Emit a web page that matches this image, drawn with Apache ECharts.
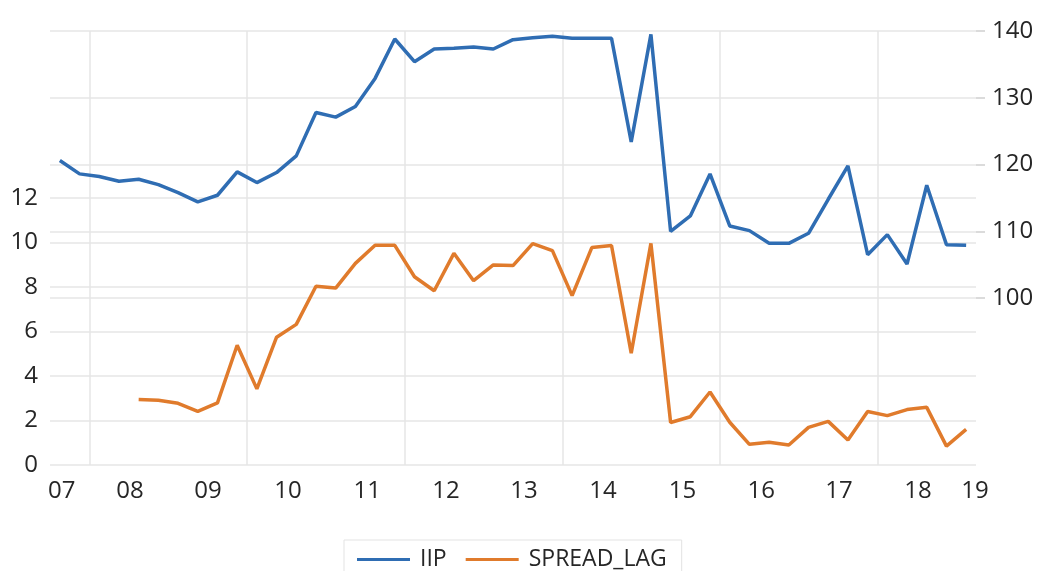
<!DOCTYPE html>
<html>
<head>
<meta charset="utf-8">
<script src="https://cdn.jsdelivr.net/npm/echarts@6/dist/echarts.min.js"></script>
<style>html,body{margin:0;padding:0;background:#fff;}#chart{width:1039px;height:571px;}</style>
</head>
<body>
<div id="chart"></div>
<script>
// Quarterly categories 2007Q1 .. 2018Q3
const quarters = [
  '2007Q1','2007Q2','2007Q3','2007Q4','2008Q1','2008Q2','2008Q3','2008Q4',
  '2009Q1','2009Q2','2009Q3','2009Q4','2010Q1','2010Q2','2010Q3','2010Q4',
  '2011Q1','2011Q2','2011Q3','2011Q4','2012Q1','2012Q2','2012Q3','2012Q4',
  '2013Q1','2013Q2','2013Q3','2013Q4','2014Q1','2014Q2','2014Q3','2014Q4',
  '2015Q1','2015Q2','2015Q3','2015Q4','2016Q1','2016Q2','2016Q3','2016Q4',
  '2017Q1','2017Q2','2017Q3','2017Q4','2018Q1','2018Q2','2018Q3'
];
const iip = [
  120.6,118.6,118.2,117.5,117.8,117.0,115.8,114.4,
  115.4,118.9,117.3,118.8,121.3,127.8,127.1,128.7,
  132.9,138.8,135.4,137.3,137.4,137.6,137.3,138.7,
  139.0,139.2,138.9,138.9,138.9,123.4,139.5,110.0,
  112.3,118.6,110.8,110.1,108.2,108.2,109.7,114.8,
  119.8,106.5,109.5,105.1,116.9,108.0,107.9
];
const spreadLag = [
  null,null,null,null,2.94,2.91,2.77,2.41,
  2.79,5.38,3.42,5.74,6.32,8.03,7.95,9.06,
  9.87,9.87,8.46,7.83,9.51,8.28,8.99,8.96,
  9.95,9.63,7.61,9.77,9.86,5.02,9.96,1.91,
  2.17,3.28,1.92,0.93,1.02,0.90,1.69,1.96,
  1.12,2.40,2.22,2.49,2.59,0.85,1.60
];
const yearLabels = ['07','08','09','10','11','12','13','14','15','16','17','18','19'];
const yearLabelPos = [0.6,4.06,8.02,12.08,16.1,20.1,24.06,28.07,32.1,36.1,40.05,44.06,46.95];
const vGridPos = [2,10,18,26,34,42];
const leftTicks = [0,2,4,6,8,10,12];
const rightTicks = [100,110,120,130,140];

const FONT = 'Open Sans';
const TXT = '#262626';
const GRID = '#e6e6e6';
const BLUE = '#2f6db3';
const ORANGE = '#e07b2c';

const chart = echarts.init(document.getElementById('chart'), null, {renderer: 'canvas'});
chart.setOption({
  animation: false,
  backgroundColor: '#fff',
  textStyle: {fontFamily: FONT},
  grid: {left: 50, right: 63, top: 31, bottom: 106, containLabel: false},
  legend: {
    data: ['IIP', 'SPREAD_LAG'],
    left: 344, top: 540,
    padding: [8, 15, 30, 13],
    borderColor: '#e3e3e3', borderWidth: 1,
    icon: 'rect',
    itemWidth: 53, itemHeight: 3, itemGap: 19,
    textStyle: {fontFamily: FONT, fontSize: 23, color: TXT, padding: [0, 0, 0, 5]}
  },
  xAxis: [
    {
      type: 'category', data: quarters, boundaryGap: true,
      axisLine: {show: false}, axisTick: {show: false}, axisLabel: {show: false},
      splitLine: {show: false}
    },
    {
      type: 'value', min: 0, max: quarters.length, position: 'bottom',
      axisLine: {show: false},
      axisTick: {show: false, customValues: vGridPos},
      splitLine: {show: true, lineStyle: {color: GRID, width: 1.5}},
      axisLabel: {
        customValues: yearLabelPos, margin: 14,
        fontFamily: FONT, fontSize: 24, color: TXT,
        formatter: function (v) { return yearLabels[Math.round(v / 4)]; }
      }
    }
  ],
  yAxis: [
    {
      type: 'value', min: 0, max: 19.5, position: 'left',
      axisLine: {show: false},
      axisTick: {show: false, customValues: leftTicks},
      axisLabel: {customValues: leftTicks, margin: 12, fontFamily: FONT, fontSize: 24, color: TXT},
      splitLine: {show: true, lineStyle: {color: GRID, width: 1.5}}
    },
    {
      type: 'value', min: 75, max: 140, position: 'right',
      axisLine: {show: false},
      axisTick: {show: true, customValues: rightTicks, length: 9, lineStyle: {color: '#d0d0d0', width: 1.5}},
      axisLabel: {customValues: rightTicks, margin: 16, fontFamily: FONT, fontSize: 24, color: TXT},
      splitLine: {show: true, lineStyle: {color: GRID, width: 1.5}}
    }
  ],
  series: [
    {
      name: 'IIP', type: 'line', xAxisIndex: 0, yAxisIndex: 1, data: iip,
      symbol: 'none', lineStyle: {color: BLUE, width: 3.5}, itemStyle: {color: BLUE}
    },
    {
      name: 'SPREAD_LAG', type: 'line', xAxisIndex: 0, yAxisIndex: 0, data: spreadLag,
      symbol: 'none', lineStyle: {color: ORANGE, width: 3.5}, itemStyle: {color: ORANGE}
    }
  ]
});
</script>
</body>
</html>
